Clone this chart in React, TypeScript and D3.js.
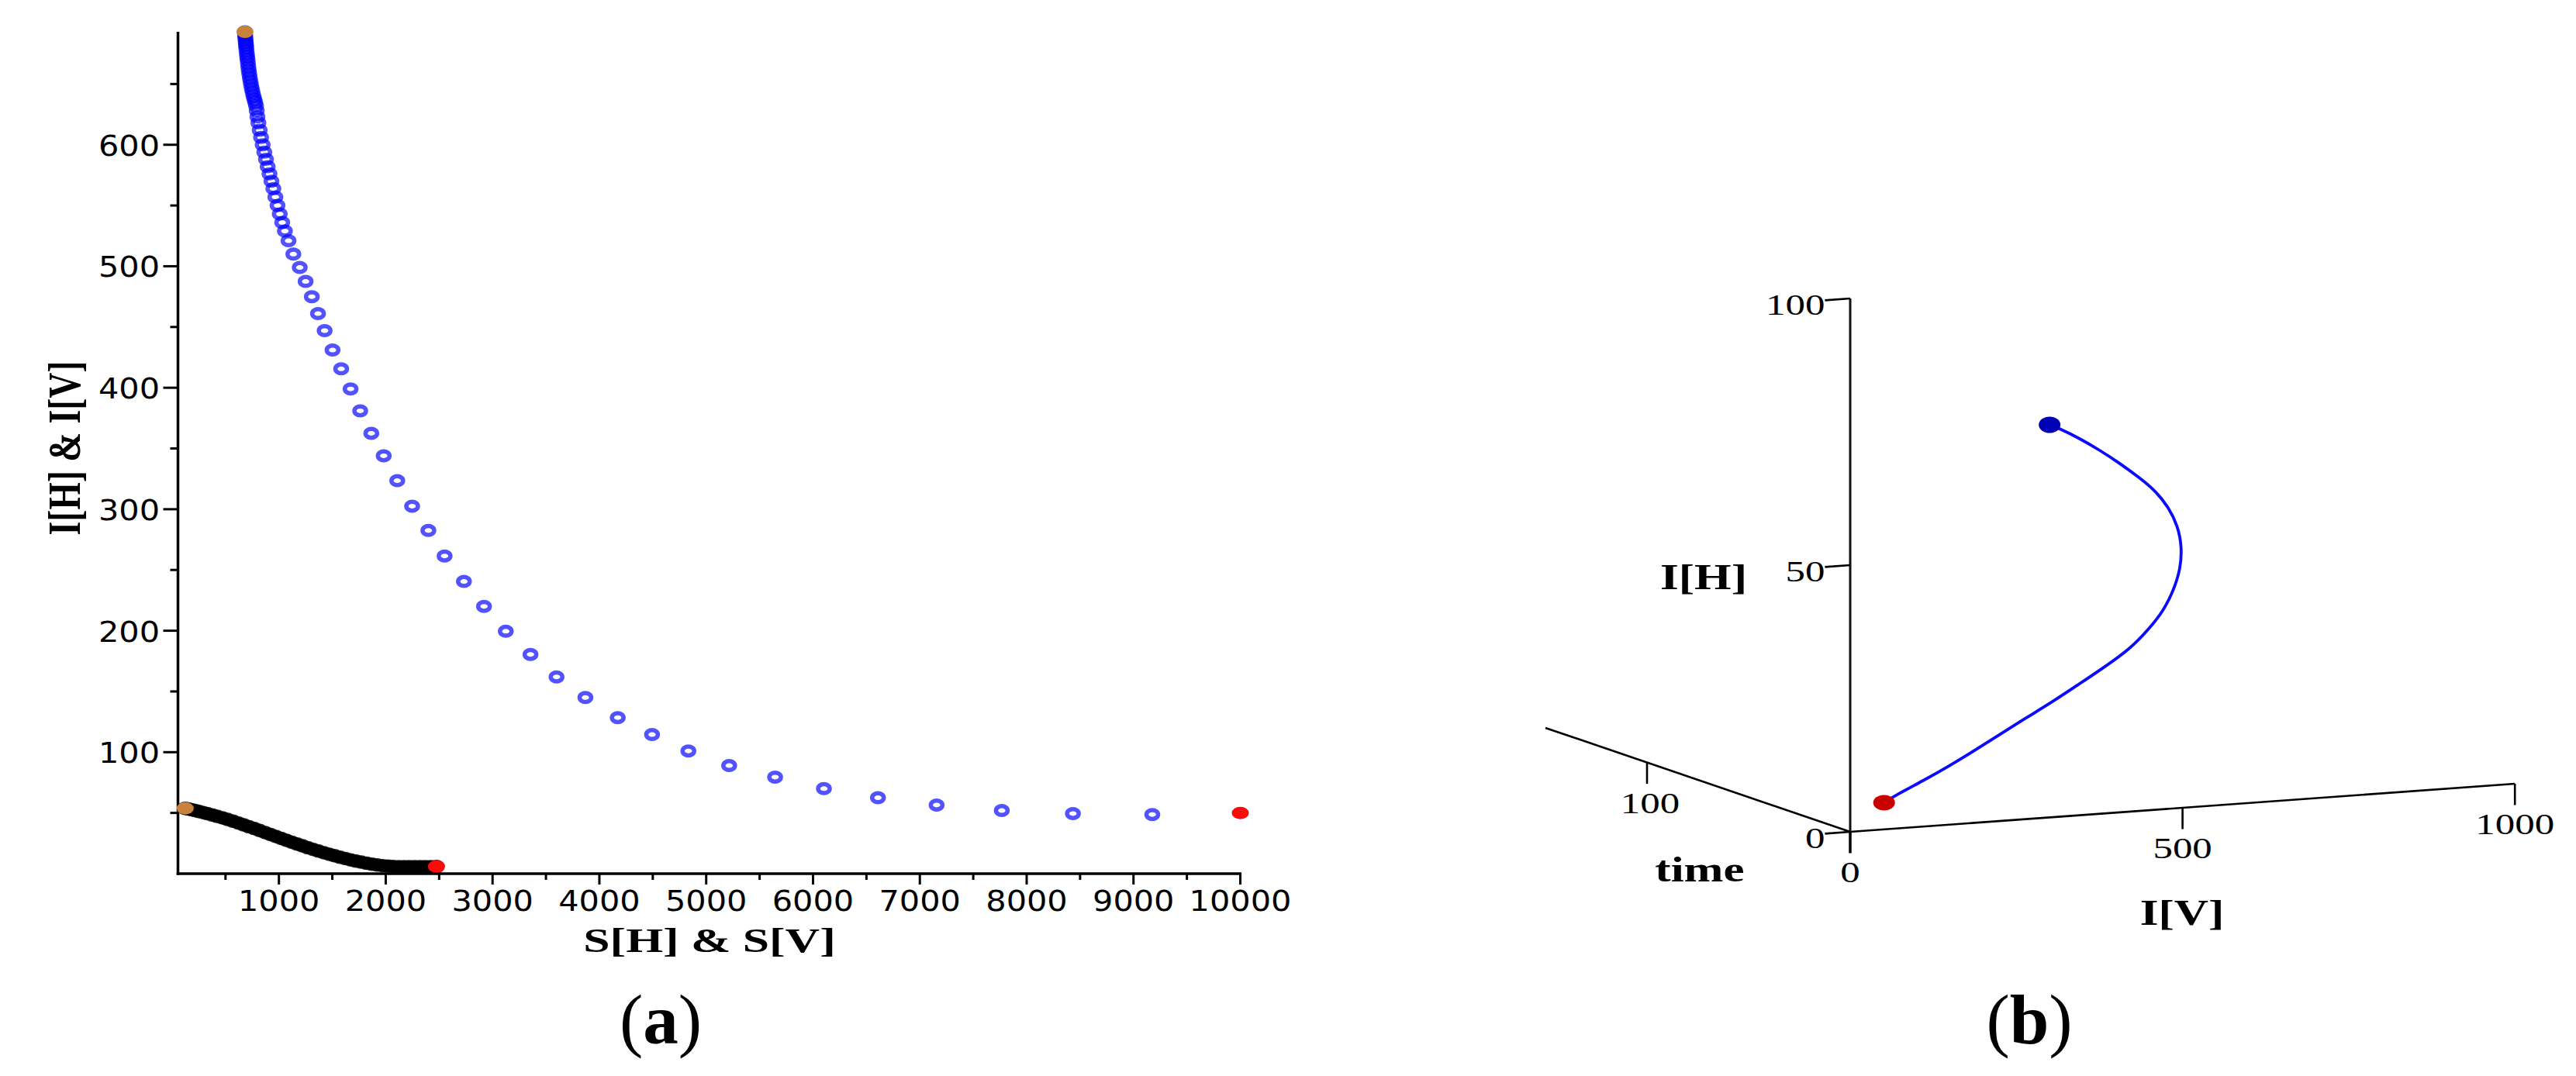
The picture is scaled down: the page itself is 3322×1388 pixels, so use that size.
import React from 'react';
import * as d3 from 'd3';

// ---------- Panel (a) data ----------
// blue series: S[V] vs I[V]
const blueS = [682, 683, 684, 686, 688, 690, 692, 694, 697, 700, 703, 706, 710, 714, 718, 723, 728, 734, 740, 747, 754, 762, 770, 778, 786, 792, 799, 808, 820, 833, 848, 863, 879, 895, 912, 930, 948, 967, 987, 1008, 1031, 1056, 1090, 1135, 1195, 1250, 1308, 1366, 1428, 1502, 1583, 1671, 1761, 1865, 1981, 2108, 2247, 2399, 2551, 2732, 2920, 3124, 3355, 3599, 3869, 4172, 4493, 4833, 5215, 5645, 6102, 6608, 7157, 7767, 8433, 9176, 10000];
const blueI = [693, 691.5, 690, 688, 686, 684, 682, 680, 677.5, 675, 672.5, 670, 667, 664, 661, 658, 655, 652, 649, 646, 643, 640, 637.5, 635, 632, 628, 623, 618, 612, 606, 600, 594, 588, 582, 576, 570, 564, 557, 550, 543, 536, 529, 521, 510, 499, 487.5, 475, 461, 447, 431, 415.5, 399, 381, 362.5, 344, 323.5, 302.5, 282.5, 261.5, 240.5, 220, 199.5, 180.5, 162, 145, 128.5, 114.5, 101, 89, 79.5, 70, 62.5, 56.5, 52, 49.5, 48.7, 50];
// black series: S[H] vs I[H]
const blackS = [123, 150, 180, 215, 250, 290, 330, 375, 420, 470, 520, 570, 620, 670, 720, 770, 820, 870, 920, 970, 1020, 1070, 1120, 1170, 1220, 1270, 1320, 1370, 1420, 1470, 1520, 1570, 1620, 1670, 1720, 1770, 1820, 1870, 1920, 1970, 2020, 2070, 2120, 2170, 2220, 2270, 2320, 2370, 2420, 2475];
const blackI = [53.8, 53.3, 52.7, 52.0, 51.2, 50.3, 49.4, 48.3, 47.2, 46.0, 44.6, 43.2, 41.7, 40.2, 38.6, 37.1, 35.5, 33.9, 32.3, 30.7, 29.1, 27.5, 25.9, 24.4, 22.9, 21.4, 20.0, 18.6, 17.3, 16.0, 14.8, 13.6, 12.5, 11.4, 10.4, 9.5, 8.6, 7.8, 7.1, 6.6, 6.2, 5.9, 5.8, 5.7, 5.7, 5.7, 5.7, 5.8, 5.8, 5.9];

const xMajorTicks = [1000, 2000, 3000, 4000, 5000, 6000, 7000, 8000, 9000, 10000];
const xMinorTicks = [500, 1500, 2500, 3500, 4500, 5500, 6500, 7500, 8500, 9500];
const yMajorTicks = [100, 200, 300, 400, 500, 600];
const yMinorTicks = [50, 150, 250, 350, 450, 550, 650];

// ---------- Panel (b) data ----------
const curveIV = [51, 71, 110, 149, 188, 226, 265, 304, 343, 382, 421, 448, 471, 487, 497, 499, 493, 479, 460, 436, 405, 374, 343, 316, 300];
const curveIH = [5, 6.4, 8.6, 11, 13.6, 16.3, 19, 21.6, 24.5, 27.4, 30.5, 33.8, 37.1, 41, 44.9, 48.9, 52.9, 56.5, 59.7, 62.4, 65.5, 68.3, 70.8, 72.7, 73.6];
const ivTicks = [0, 500, 1000];
const ihTicks = [0, 50, 100];
const timeTicks = [100];
const timeMax = 150;

const SERIF = '"Liberation Serif", "Times New Roman", serif';
const SANS = '"DejaVu Sans", Tahoma, sans-serif';

function SText(props: any) {
  const { x, y, sx = 1, rot, anchor = 'middle', size, weight = 'normal', family = SERIF, children } = props;
  const tr = `translate(${x},${y}) scale(${sx},1)` + (rot ? ` rotate(${rot})` : '');
  return (
    <text transform={tr} textAnchor={anchor} fontSize={size} fontWeight={weight} fontFamily={family} fill="#000">
      {children}
    </text>
  );
}

export default function App() {
  // panel (a) scales
  const x = d3.scaleLinear().domain([55, 10000]).range([229.5, 1599.5]);
  const y = d3.scaleLinear().domain([0, 693]).range([1127, 41]);
  const x0 = x(55), y0 = y(0);

  const blackLine = d3.line<number>().x((d, i) => x(blackS[i])).y((d, i) => y(blackI[i])).curve(d3.curveBasis);

  // panel (b) projection scales
  const ox = 2386, oy = 1073;
  const ivX = d3.scaleLinear().domain([0, 1000]).range([0, 857.2]);
  const ivY = d3.scaleLinear().domain([0, 1000]).range([0, -62]);
  const ihY = d3.scaleLinear().domain([0, 100]).range([0, -688]);
  const tX = d3.scaleLinear().domain([0, 100]).range([0, -262]);
  const tY = d3.scaleLinear().domain([0, 100]).range([0, -89.4]);
  const P = (t: number, iv: number, ih: number): [number, number] => [
    ox + ivX(iv) + tX(t),
    oy + ivY(iv) + ihY(ih) + tY(t),
  ];
  const curvePts = curveIV.map((v, i) => P(0, v, curveIH[i]));
  const curvePath = d3.line().curve(d3.curveBasis)(curvePts as any) as string;

  const o = P(0, 0, 0);
  const ivEnd = P(0, 1000, 0);
  const ihEnd = P(0, 0, 100);
  const tEnd = P(timeMax, 0, 0);

  return (
    <svg width={3322} height={1388} style={{ position: 'absolute', left: 0, top: 0, display: 'block', background: '#fff' }}>
      <rect x={0} y={0} width={3322} height={1388} fill="#fff" />
      {/* ================= Panel (a) ================= */}
      <line x1={x0} y1={y(693)} x2={x0} y2={y0 + 1.75} stroke="#000" strokeWidth={3.5} />
      <line x1={x0 - 1.75} y1={y0} x2={x(10000) + 1.5} y2={y0} stroke="#000" strokeWidth={3.5} />
      {yMajorTicks.map((v) => (
        <g key={'ym' + v}>
          <line x1={x0 - 19} x2={x0} y1={y(v)} y2={y(v)} stroke="#000" strokeWidth={3} />
          <SText x={206} y={y(v) + 14} sx={1.12} anchor="end" size={37} family={SANS}>{v}</SText>
        </g>
      ))}
      {yMinorTicks.map((v) => (
        <line key={'yn' + v} x1={x0 - 10} x2={x0} y1={y(v)} y2={y(v)} stroke="#000" strokeWidth={3} />
      ))}
      {xMajorTicks.map((v) => (
        <g key={'xm' + v}>
          <line x1={x(v)} x2={x(v)} y1={y0} y2={y0 + 14} stroke="#000" strokeWidth={3} />
          <SText x={x(v)} y={1175} sx={1.12} size={37} family={SANS}>{v}</SText>
        </g>
      ))}
      {xMinorTicks.map((v) => (
        <line key={'xn' + v} x1={x(v)} x2={x(v)} y1={y0} y2={y0 + 8} stroke="#000" strokeWidth={3} />
      ))}
      <SText x={915} y={1228} sx={1.37} size={45} weight="bold">S[H] &amp; S[V]</SText>
      <SText x={103} y={578} sx={1.3} rot={-90} size={45.5} weight="bold">I[H] &amp; I[V]</SText>

      {/* black series */}
      <path d={blackLine(blackS) as string} fill="none" stroke="#0a0a0a" strokeWidth={15} strokeLinecap="round" />
      {blackS.map((s, i) => (
        <ellipse key={'bk' + i} cx={x(s)} cy={y(blackI[i])} rx={7.5} ry={5.75} fill="none" stroke="#000" strokeWidth={6} strokeOpacity={0.85} />
      ))}
      {/* blue series */}
      {blueS.map((s, i) => (
        i < blueS.length - 1 ? (
          <ellipse key={'bl' + i} cx={x(s)} cy={y(blueI[i])} rx={7.5} ry={5.75} fill="none" stroke="#0000ff" strokeWidth={5.5} strokeOpacity={0.68} />
        ) : null
      ))}
      <ellipse cx={x(blueS[0])} cy={y(blueI[0])} rx={11} ry={8} fill="#c8823c" />
      <ellipse cx={x(blackS[0])} cy={y(blackI[0])} rx={11} ry={8} fill="#c8823c" />
      <ellipse cx={x(blueS[blueS.length - 1])} cy={y(blueI[blueI.length - 1])} rx={11} ry={8} fill="#ff0a0a" />
      <ellipse cx={x(blackS[blackS.length - 1])} cy={y(blackI[blackI.length - 1])} rx={11} ry={8} fill="#ff0a0a" />

      <text x={852} y={1346} textAnchor="middle" fontSize={91} fontFamily={SERIF} fill="#000">
        (<tspan fontWeight="bold">a</tspan>)
      </text>

      {/* ================= Panel (b) ================= */}
      <line x1={o[0]} y1={o[1]} x2={ivEnd[0]} y2={ivEnd[1]} stroke="#000" strokeWidth={2.6} />
      <line x1={o[0]} y1={o[1]} x2={ihEnd[0]} y2={ihEnd[1]} stroke="#111" strokeWidth={3} />
      <line x1={o[0]} y1={o[1]} x2={tEnd[0]} y2={tEnd[1]} stroke="#000" strokeWidth={2.6} />
      {ivTicks.map((v) => {
        const a = P(0, v, 0), b = P(0, v, -4);
        return (
          <g key={'iv' + v}>
            <line x1={a[0]} y1={a[1]} x2={b[0]} y2={b[1]} stroke="#000" strokeWidth={v === 0 ? 3.5 : 2.6} />
            <SText x={b[0]} y={b[1] + 37} sx={1.34} size={38}>{v}</SText>
          </g>
        );
      })}
      {ihTicks.map((v) => {
        const a = P(0, 0, v), b = P(0, -38, v);
        return (
          <g key={'ih' + v}>
            <line x1={a[0]} y1={a[1]} x2={b[0]} y2={b[1]} stroke="#000" strokeWidth={2.6} />
            <SText x={b[0]} y={b[1] + 19} sx={1.34} anchor="end" size={38}>{v}</SText>
          </g>
        );
      })}
      {timeTicks.map((v) => {
        const a = P(v, 0, 0), b = P(v, 0, -4);
        return (
          <g key={'tt' + v}>
            <line x1={a[0]} y1={a[1]} x2={b[0]} y2={b[1]} stroke="#000" strokeWidth={2.6} />
            <SText x={b[0] + 4} y={b[1] + 38} sx={1.34} size={38}>{v}</SText>
          </g>
        );
      })}
      <SText x={2197} y={760} sx={1.33} size={46} weight="bold">I[H]</SText>
      <SText x={2192} y={1137} sx={1.33} size={46} weight="bold">time</SText>
      <SText x={2814} y={1193} sx={1.33} size={46} weight="bold">I[V]</SText>

      <path d={curvePath} fill="none" stroke="#0a0aff" strokeWidth={3.8} />
      <ellipse cx={curvePts[0][0]} cy={curvePts[0][1]} rx={14} ry={10} fill="#c80000" />
      <ellipse cx={curvePts[curvePts.length - 1][0]} cy={curvePts[curvePts.length - 1][1]} rx={14} ry={10.5} fill="#0000b4" />

      <text x={2617} y={1346} textAnchor="middle" fontSize={91} fontFamily={SERIF} fill="#000">
        (<tspan fontWeight="bold">b</tspan>)
      </text>
    </svg>
  );
}
